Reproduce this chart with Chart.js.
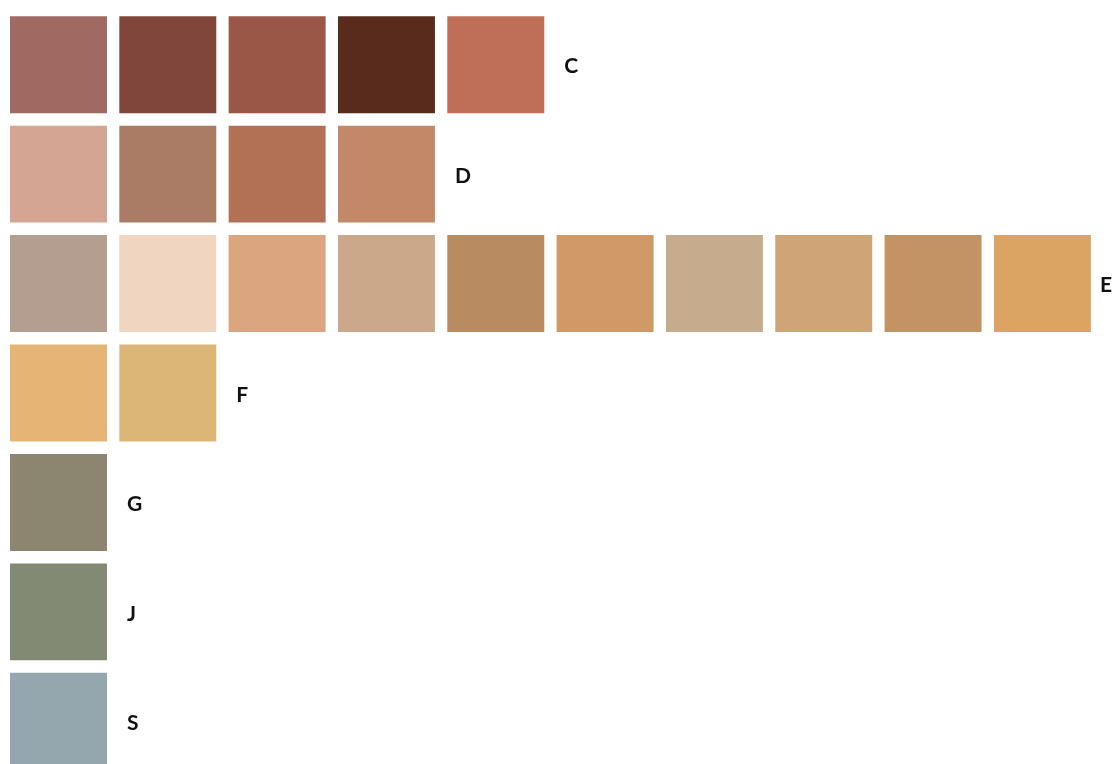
<!DOCTYPE html>
<html>
<head>
<meta charset="utf-8">
<script src="https://cdn.jsdelivr.net/npm/chart.js@4"></script>
<style>
  html, body { margin: 0; padding: 0; background: #ffffff; overflow: hidden; }
  #wrapper { width: 1118px; height: 764px; overflow: hidden; }
</style>
</head>
<body>
<div id="wrapper">
  <canvas id="farbTafel" width="1118" height="780"></canvas>
</div>
<script>
// Zeilen der Farbtafel (Kategorien)
const rows = ["C", "D", "E", "F", "G", "J", "S"];

// Farben je Zeile, von links nach rechts
const rowC = ["#A06A63", "#80463B", "#9A5646", "#582B1C", "#BF6F57"];
const rowD = ["#D3A592", "#AA7C66", "#B27054", "#C38867"];
const rowE = ["#B49E8F", "#F0D5C0", "#DBA67F", "#CCA88A", "#B98B60",
              "#D09A68", "#C6AC8C", "#CFA577", "#C39363", "#DBA462"];
const rowF = ["#E6B474", "#DBB676"];
const rowG = ["#8C8670"];
const rowJ = ["#828A73"];
const rowS = ["#94A6AE"];

const swatchColors = [rowC, rowD, rowE, rowF, rowG, rowJ, rowS];

// Spaltennummern (0 = ganz links)
const columns = [0, 1, 2, 3, 4, 5, 6, 7, 8, 9];

// Breite eines Feldes in Spalten-Einheiten
const SWATCH = 0.887;

function erstelleDatensaetze() {
  return columns.map(function (col) {
    return {
      label: "Spalte " + (col + 1),
      data: swatchColors.map(function (farben) {
        return col < farben.length ? [col, col + SWATCH] : null;
      }),
      backgroundColor: swatchColors.map(function (farben) {
        return farben[col] || "rgba(0,0,0,0)";
      }),
      borderWidth: 0,
      grouped: false,
      categoryPercentage: 1.0,
      barPercentage: 0.886,
    };
  });
}

// Buchstaben rechts neben dem letzten Feld einer Zeile
const zeilenBeschriftung = {
  id: "zeilenBeschriftung",
  afterDatasetsDraw(chart) {
    const ctx = chart.ctx;
    const x = chart.scales.x;
    const y = chart.scales.y;
    ctx.save();
    ctx.font = "bold 21px Lato, 'Open Sans', sans-serif";
    ctx.fillStyle = "#111111";
    ctx.textAlign = "left";
    ctx.textBaseline = "middle";
    rows.forEach(function (name, i) {
      const n = swatchColors[i].length;
      let px = x.getPixelForValue(n - 1 + SWATCH) + 20;
      px = Math.min(px, chart.width - 18);
      ctx.fillText(name, px, y.getPixelForValue(i) + 2);
    });
    ctx.restore();
  },
};

const canvas = document.getElementById("farbTafel").getContext("2d");
window.farbChart = new Chart(canvas, {
  type: "bar",
  data: {
    labels: rows,
    datasets: erstelleDatensaetze(),
  },
  options: {
    indexAxis: "y",
    responsive: false,
    animation: false,
    layout: {
      padding: { left: 10, right: 0, top: 10, bottom: 4 },
    },
    plugins: {
      legend: { display: false },
      tooltip: { enabled: false },
      title: { display: false },
    },
    scales: {
      x: {
        type: "linear",
        min: 0,
        max: 10.135,
        display: false,
      },
      y: {
        type: "category",
        display: false,
      },
    },
  },
  plugins: [zeilenBeschriftung],
});
</script>
</body>
</html>
